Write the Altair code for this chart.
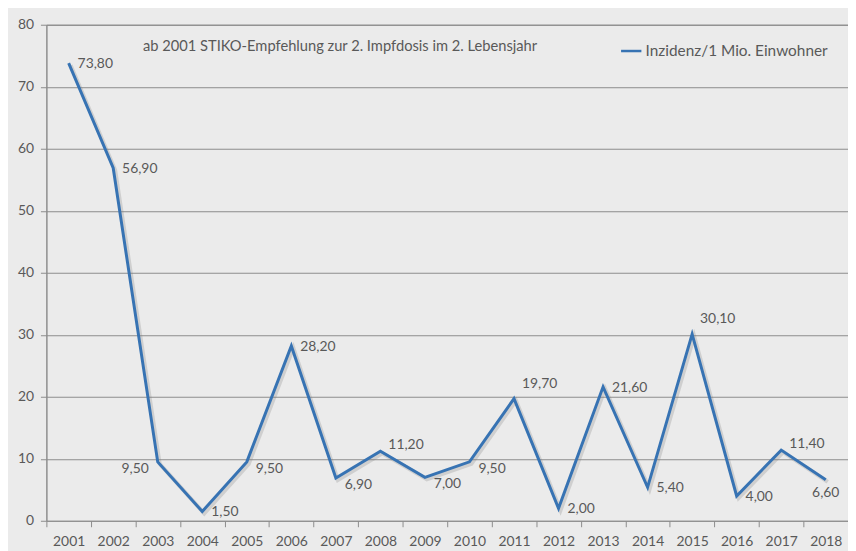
import altair as alt
import pandas as pd

years = [str(y) for y in range(2001, 2019)]
values = [73.8, 56.9, 9.5, 1.5, 9.5, 28.2, 6.9, 11.2, 7.0, 9.5, 19.7, 2.0, 21.6, 5.4, 30.1, 4.0, 11.4, 6.6]
label_place = ["r", "r", "l", "r", "rl", "r", "rl", "ra", "rl", "rl", "a", "r", "r", "r", "a", "r", "ra", "b"]
series_name = "Inzidenz/1 Mio. Einwohner"
note_text = "ab 2001 STIKO-Empfehlung zur 2. Impfdosis im 2. Lebensjahr"

df = pd.DataFrame({"Jahr": years, "Wert": values, "place": label_place})
df["Label"] = [f"{v:.2f}".replace(".", ",") for v in values]
df["Serie"] = series_name

FONT = "Lato"
TXT = "#595959"
GRID = "#8c8c8c"
BLUE = "#3773b3"
BG = "#ebebeb"

x_enc = alt.X("Jahr:O",
              scale=alt.Scale(type="band", paddingInner=0, paddingOuter=0),
              axis=alt.Axis(title=None, labelAngle=0, tickBand="extent", domain=False,
                            ticks=True, tickSize=6, tickColor=GRID, grid=False,
                            labelFontSize=14, labelColor=TXT, labelFont=FONT, labelPadding=8))
y_enc = alt.Y("Wert:Q",
              scale=alt.Scale(domain=[0, 80], nice=False),
              axis=alt.Axis(title=None, values=list(range(0, 81, 10)), grid=True, gridColor=GRID,
                            gridWidth=1, domain=True, domainColor=GRID, tickSize=6, tickColor=GRID,
                            labelFontSize=14, labelColor=TXT, labelFont=FONT, labelPadding=7))

base = alt.Chart(df)

shadow = base.mark_line(stroke="#7a7a7a", strokeWidth=4, opacity=0.25, xOffset=2, yOffset=2,
                        strokeJoin="miter").encode(x=x_enc, y=y_enc)

line = base.mark_line(strokeWidth=3, strokeJoin="miter").encode(
    x=x_enc, y=y_enc,
    color=alt.Color("Serie:N", scale=alt.Scale(range=[BLUE]),
                    legend=alt.Legend(title=None, orient="none", legendX=578, legendY=15,
                                      symbolType="stroke", symbolSize=420, symbolStrokeWidth=2.5,
                                      labelFontSize=15.5, labelColor=TXT, labelFont=FONT,
                                      labelOffset=3, padding=0, labelLimit=0)))

styles = {
    "r": dict(align="left", dx=9, dy=1),
    "rl": dict(align="left", dx=9, dy=7),
    "l": dict(align="right", dx=-9, dy=7),
    "ra": dict(align="left", dx=8, dy=-6),
    "a": dict(align="left", dx=8, dy=-15),
    "b": dict(align="center", dx=0, dy=13),
}

label_layers = []
for key, st in styles.items():
    label_layers.append(
        base.transform_filter(alt.datum.place == key).mark_text(
            baseline="middle", fontSize=14, font=FONT, color=TXT, **st
        ).encode(x=x_enc, y=y_enc, text="Label:N")
    )

note = alt.Chart(pd.DataFrame({"t": [note_text]})).mark_text(
    fontSize=14.8, font=FONT, color=TXT, align="center", baseline="middle"
).encode(x=alt.value(296), y=alt.value(22), text="t:N")

chart = alt.layer(shadow, line, *label_layers, note).properties(
    width=808, height=500,
    autosize=alt.AutoSizeParams(type="none"),
    padding={"left": 38.7, "top": 14.7, "right": 0, "bottom": 30},
    background=BG,
).configure_view(stroke=GRID, strokeWidth=1, fill=BG)

chart.save("out.html", embed_options={"renderer": "svg", "actions": False})
